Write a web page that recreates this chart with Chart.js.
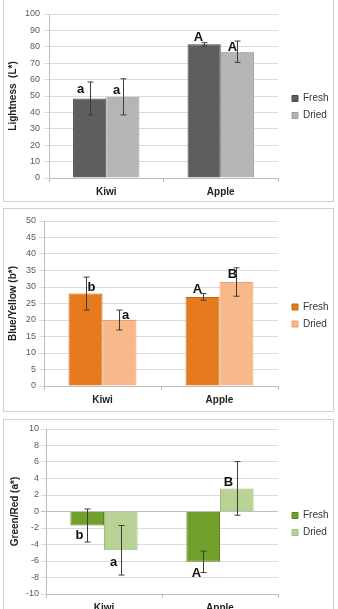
<!DOCTYPE html>
<html>
<head>
<meta charset="utf-8">
<script src="https://cdn.jsdelivr.net/npm/chart.js@4.4.1/dist/chart.umd.min.js"></script>
<style>
body{margin:0;width:338px;height:609px;overflow:hidden;background:#fff;position:relative}
.panel{position:absolute;left:3px;width:329px;border:1px solid #cfcfcf;background:#fff}
.panel canvas{display:block}
</style>
</head>
<body>
<div class="panel" style="top:-1px;height:201px"><canvas id="c1" width="329" height="201"></canvas></div>
<div class="panel" style="top:208px;height:202px"><canvas id="c2" width="329" height="202"></canvas></div>
<div class="panel" style="top:419px;height:200px"><canvas id="c3" width="329" height="200"></canvas></div>
<script>
const categories = ['Kiwi', 'Apple'];
const seriesNames = ['Fresh', 'Dried'];

// Lightness (L*)
const lightFresh = [48.5, 81.5];
const lightDried = [49.5, 77];
const lightFreshErr = [10, 1];
const lightDriedErr = [11, 6.5];
const lightFreshLetters = ['a', 'A'];
const lightDriedLetters = ['a', 'A'];
const lightTicks = [0, 100, 10];

// Blue/Yellow (b*)
const yellowFresh = [28, 27];
const yellowDried = [20, 31.5];
const yellowFreshErr = [5, 1];
const yellowDriedErr = [3, 4.3];
const yellowFreshLetters = ['b', 'A'];
const yellowDriedLetters = ['a', 'B'];
const yellowTicks = [0, 50, 5];

// Green/Red (a*)
const greenFresh = [-1.7, -6.1];
const greenDried = [-4.7, 2.8];
const greenFreshErr = [2, 1.3];
const greenDriedErr = [3, 3.25];
const greenFreshLetters = ['b', 'A'];
const greenDriedLetters = ['a', 'B'];
const greenTicks = [-10, 10, 2];

const FONT = '"Liberation Sans", Arial, sans-serif';

// error bars + significance letters
const errorBars = {
    id: 'errorBars',
    afterDatasetsDraw(chart, args, opts) {
        const ctx = chart.ctx;
        const y = chart.scales.y;
        chart.data.datasets.forEach((ds, i) => {
            chart.getDatasetMeta(i).data.forEach((bar, j) => {
                const v = ds.data[j], e = ds.errors[j];
                const top = y.getPixelForValue(v + e);
                const bot = y.getPixelForValue(v - e);
                const x = Math.round(bar.x) + 0.5;
                ctx.save();
                ctx.strokeStyle = '#3c3c3c';
                ctx.lineWidth = 1;
                ctx.beginPath();
                ctx.moveTo(x, top); ctx.lineTo(x, bot);
                ctx.moveTo(x - 3, top); ctx.lineTo(x + 3, top);
                ctx.moveTo(x - 3, bot); ctx.lineTo(x + 3, bot);
                ctx.stroke();
                const o = opts.offsets[i][j];
                ctx.fillStyle = '#111';
                ctx.font = 'bold 13px ' + FONT;
                ctx.textAlign = 'center';
                ctx.textBaseline = 'middle';
                ctx.fillText(ds.letters[j], x + o[1], (o[0] === 'top' ? top : bot) + o[2]);
                ctx.restore();
            });
        });
    }
};

function makeChart(id, fresh, dried, freshErr, driedErr, freshL, driedL, colors, title, ticks, lay) {
    new Chart(document.getElementById(id), {
        type: 'bar',
        data: {
            labels: categories,
            datasets: [
                {label: seriesNames[0], data: fresh, errors: freshErr, letters: freshL,
                 backgroundColor: colors[0], borderColor: colors[1], borderWidth: 1},
                {label: seriesNames[1], data: dried, errors: driedErr, letters: driedL,
                 backgroundColor: colors[2], borderColor: colors[3], borderWidth: 1}
            ]
        },
        options: {
            responsive: false,
            animation: false,
            categoryPercentage: 0.58,
            barPercentage: 1,
            layout: {padding: {left: 0, top: lay.top, right: 0, bottom: lay.bottom}},
            plugins: {
                tooltip: {enabled: false},
                legend: {
                    position: 'right',
                    maxWidth: 48,
                    labels: {boxWidth: 6, boxHeight: 6, padding: 7, color: '#333',
                             font: {size: 10, family: FONT}}
                },
                errorBars: {offsets: lay.offsets}
            },
            scales: {
                x: {
                    grid: {drawOnChartArea: false, tickLength: 4, color: '#bdbdbd'},
                    border: {color: '#bdbdbd'},
                    ticks: {color: '#222', padding: 4, font: {size: 10, weight: 'bold', family: FONT}},
                    afterFit(s) { s.height = lay.xh; }
                },
                y: {
                    min: ticks[0], max: ticks[1],
                    ticks: {stepSize: ticks[2], color: '#595959', padding: lay.tp, font: {size: 9, family: FONT}},
                    grid: {color: c => c.tick && c.tick.value === 0 && ticks[0] < 0 ? '#bdbdbd' : '#dcdcdc', tickLength: 5},
                    border: {color: '#bdbdbd'},
                    title: {display: true, text: title, color: '#222', padding: {top: lay.tt, bottom: 0},
                            font: {size: 10, weight: 'bold', family: FONT}},
                    afterFit(s) { s.width = lay.yw; }
                },
                gap: {
                    position: 'right', display: true,
                    grid: {display: false}, ticks: {display: false}, border: {display: false},
                    afterFit(s) { s.width = 7; }
                }
            }
        },
        plugins: [errorBars]
    });
}

makeChart('c1', lightFresh, lightDried, lightFreshErr, lightDriedErr, lightFreshLetters, lightDriedLetters,
    ['#5e5e5e', '#4a4a4a', '#b5b5b5', '#9d9d9d'], 'Lightness  (L*)', lightTicks,
    {top: 14, bottom: 1, xh: 22, yw: 45, tp: 4, tt: 3,
     offsets: [[['top', -10, 7], ['top', -6, -5]], [['top', -7, 12], ['top', -5, 6]]]});

makeChart('c2', yellowFresh, yellowDried, yellowFreshErr, yellowDriedErr, yellowFreshLetters, yellowDriedLetters,
    ['#e57b1e', '#c9650f', '#f8b889', '#e9a06d'], 'Blue/Yellow (b*)', yellowTicks,
    {top: 12, bottom: 1, xh: 24, yw: 40, tp: 3, tt: 3,
     offsets: [[['top', 5, 10], ['top', -6, -4]], [['top', 6, 5], ['top', -4, 7]]]});

makeChart('c3', greenFresh, greenDried, greenFreshErr, greenDriedErr, greenFreshLetters, greenDriedLetters,
    ['#70a02b', '#5a8520', '#b8d295', '#9fbd7b'], 'Green/Red (a*)', greenTicks,
    {top: 9, bottom: 1, xh: 25, yw: 42, tp: 2, tt: 5,
     offsets: [[['bottom', -8, -7], ['bottom', -7, 1]], [['bottom', -8, -13], ['top', -9, 21]]]});
</script>
</body>
</html>
